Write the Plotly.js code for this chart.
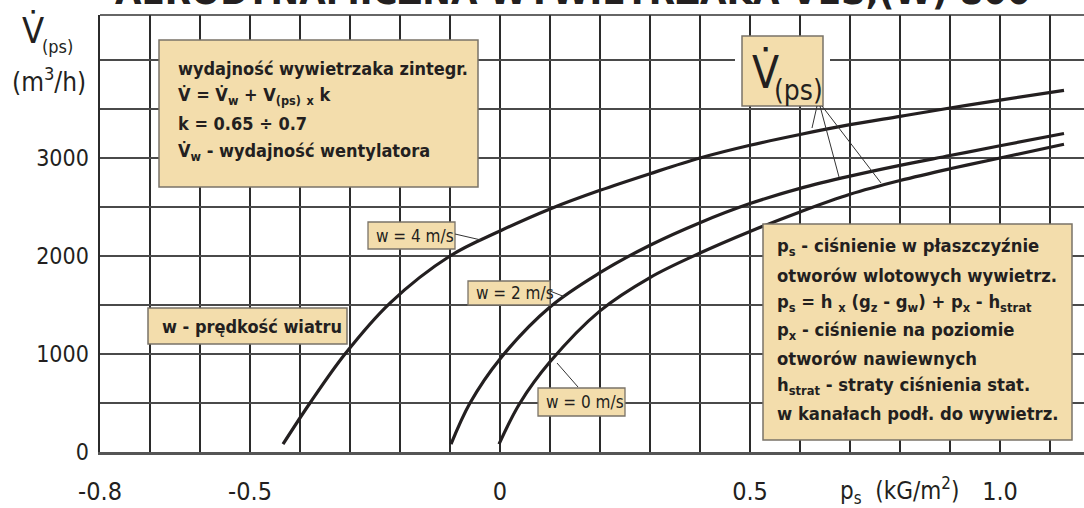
<!DOCTYPE html>
<html>
<head>
<meta charset="utf-8">
<script src="https://cdn.plot.ly/plotly-3.0.1.min.js"></script>
<style>html,body{margin:0;padding:0;background:#fff;}#chart{width:1084px;height:508px;}</style>
</head>
<body>
<div id="chart"></div>
<script>
// ---- data ----
const w4_p = [-0.434, -0.38, -0.31, -0.22, -0.1, 0, 0.1, 0.2, 0.3, 0.4, 0.5, 0.6, 0.7, 0.8, 0.9, 1.0, 1.128];
const w4_V = [80, 500, 1000, 1520, 2000, 2255, 2480, 2670, 2840, 3000, 3130, 3240, 3340, 3425, 3510, 3590, 3690];
const w2_p = [-0.098, -0.06, 0.0, 0.1, 0.2, 0.3, 0.4, 0.5, 0.6, 0.7, 0.8, 0.9, 1.0, 1.128];
const w2_V = [80, 500, 950, 1480, 1830, 2110, 2340, 2535, 2690, 2815, 2925, 3025, 3125, 3250];
const w0_p = [-0.002, 0.04, 0.1, 0.2, 0.3, 0.4, 0.5, 0.6, 0.7, 0.8, 0.9, 1.0, 1.128];
const w0_V = [80, 500, 920, 1440, 1780, 2030, 2250, 2450, 2630, 2770, 2890, 3000, 3140];

const xGrid = [-0.8,-0.7,-0.6,-0.5,-0.4,-0.3,-0.2,-0.1,0,0.1,0.2,0.3,0.4,0.5,0.6,0.7,0.8,0.9,1.0,1.1];
const xTickText = {"-0.8":"-0.8","-0.5":"-0.5","0":"0","0.5":"0.5","1":"1.0"};
const yGrid = [0,500,1000,1500,2000,2500,3000,3500,4000];
const yTickText = {"0":"0","1000":"1000","2000":"2000","3000":"3000"};

const titleText = "AERODYNAMICZNA WYWIETRZAKA VES,(W) 800";
const curveLabels = ["w = 4 m/s", "w = 2 m/s", "w = 0 m/s"];
const windNote = "w - prędkość wiatru";
const boxLeft = [
  "wydajność wywietrzaka zintegr.",
  "V\u0307 = V\u0307<sub>w</sub> + V<sub>(ps)</sub> <sub>x</sub> k",
  "k = 0.65 ÷ 0.7",
  "V\u0307<sub>w</sub> - wydajność wentylatora"
];
const boxRight = [
  "p<sub>s</sub> - ciśnienie w płaszczyźnie",
  "otworów wlotowych wywietrz.",
  "p<sub>s</sub> = h <sub>x</sub> (g<sub>z</sub> - g<sub>w</sub>) + p<sub>x</sub> - h<sub>strat</sub>",
  "p<sub>x</sub> - ciśnienie na poziomie",
  "otworów nawiewnych",
  "h<sub>strat</sub> - straty ciśnienia stat.",
  "w kanałach podł. do wywietrz."
];

// ---- layout helpers (pixel -> paper) ----
const L=100, T=15, R=1084, B=452;
const px = x => (x-L)/(R-L);
const py = y => (B-y)/(B-T);
const FONT = '"DejaVu Sans Condensed", "Liberation Sans Narrow", "Liberation Sans", Arial, sans-serif';
const BOX = '#f3ddac', BOXLINE = '#7a7368', INK = '#231f20';

const traces = [
  {x: w4_p, y: w4_V, name: curveLabels[0]},
  {x: w2_p, y: w2_V, name: curveLabels[1]},
  {x: w0_p, y: w0_V, name: curveLabels[2]}
].map(t => Object.assign(t, {type:'scatter', mode:'lines', line:{color:INK, width:3.2, shape:'spline', smoothing:1}, hoverinfo:'skip', showlegend:false}));

const shapes = [];
const annotations = [];
function rect(x0,y0,x1,y1,fill,line,lw){shapes.push({type:'rect',xref:'paper',yref:'paper',x0:px(x0),x1:px(x1),y0:py(y1),y1:py(y0),fillcolor:fill,line:{color:line,width:lw},layer:'above'});}
function seg(x0,y0,x1,y1,c,w){shapes.push({type:'line',xref:'paper',yref:'paper',x0:px(x0),y0:py(y0),x1:px(x1),y1:py(y1),line:{color:c,width:w},layer:'above'});}
function text(t,x,y,size,opts){annotations.push(Object.assign({text:t,xref:'paper',yref:'paper',x:px(x),y:py(y),xanchor:'left',yanchor:'middle',showarrow:false,font:{family:FONT,size:size,color:INK}},opts||{}));}

// top border
seg(L,T,R,T,'#333',1.6);
// big left box
rect(159,40,478,187,BOX,BOXLINE,1.5);
const leftY=[68,96,124,152];
boxLeft.forEach((s,i)=>text('<b>'+s+'</b>',176,leftY[i],18));
// right box
rect(763,224,1072,440,BOX,BOXLINE,1.5);
const rightY=[247,275,303,331,358,386,413];
boxRight.forEach((s,i)=>text('<b>'+s+'</b>',775,rightY[i],18.3));
// V(ps) box
rect(735,52,830,68,'#ffffff','rgba(0,0,0,0)',0);
rect(742,36,823,106,BOX,BOXLINE,1.5);
text('V\u0307',750,72,44);
text('(ps)',772,90,28);
// leaders from V(ps)
seg(817,106,812,128,'#333',1);
seg(820,106,839,177,'#333',1);
seg(822,106,881,183,'#333',1);
// wind speed note
rect(148,308,347,344,BOX,BOXLINE,1.5);
text('<b>'+windNote+'</b>',160,326,18);
// curve labels
rect(368,222,455,249,BOX,BOXLINE,1.3); text(curveLabels[0],374,236,17);
seg(455,234,481,240,'#333',1);
rect(468,281,550,305,BOX,BOXLINE,1.3); text(curveLabels[1],474,293,17);
seg(550,291,565,297,'#333',1);
rect(538,388,625,416,BOX,BOXLINE,1.3); text(curveLabels[2],544,402,17);
seg(578,387,557,363,'#333',1);
// axis titles
text('V\u0307',20,30,36);
text('(ps)',40,46,18);
text('(m<sup>3</sup>/h)',10,80,26);
text('p<sub>s</sub>  (kG/m<sup>2</sup>)',838,490,24);
// cropped title
text('<b>'+titleText+'</b>',573,-9,38,{xanchor:'center'});

const layout = {
  width:1084, height:508,
  margin:{l:L, r:0, t:T, b:508-B, pad:0},
  paper_bgcolor:'#fff', plot_bgcolor:'#fff',
  showlegend:false,
  xaxis:{range:[-0.8,-0.8+(R-L)/500], tickmode:'array', tickvals:xGrid, ticktext:xGrid.map(v=>xTickText[String(Math.round(v*10)/10)]||''),
    showgrid:true, gridcolor:'#2b2b2b', gridwidth:1.4, zeroline:false, ticks:'', ticklabelstandoff:15,
    showline:true, linecolor:'#555', linewidth:2.5, tickfont:{family:FONT,size:25,color:INK}, fixedrange:true},
  yaxis:{range:[0,(B-T)/98*1000], tickmode:'array', tickvals:yGrid, ticktext:yGrid.map(v=>yTickText[String(v)]||''),
    showgrid:true, gridcolor:'#4a4a4a', gridwidth:1.4, zeroline:false, ticks:'', ticklabelstandoff:5,
    showline:true, linecolor:'#2b2b2b', linewidth:1.6, tickfont:{family:FONT,size:23,color:INK}, fixedrange:true},
  shapes:shapes, annotations:annotations
};
Plotly.newPlot('chart', traces, layout, {staticPlot:true, displayModeBar:false});
</script>
</body>
</html>
